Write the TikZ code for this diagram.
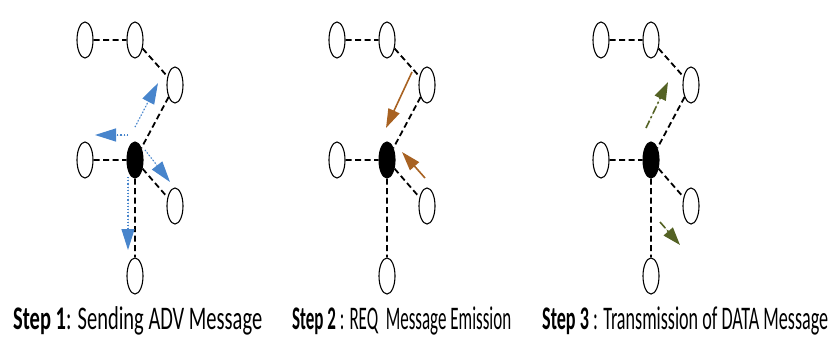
\documentclass[tikz,border=0pt]{standalone}
\usepackage{fontspec}
\setmainfont{Carlito}
\usetikzlibrary{positioning,arrows.meta,shapes.geometric}
\definecolor{advblue}{RGB}{72,133,204}
\definecolor{reqbrown}{RGB}{168,98,34}
\definecolor{dataolive}{RGB}{84,98,36}
\newcommand{\steplabel}[3]{\resizebox{#1}{\height}{\fontsize{33}{33}\selectfont\textbf{#2}#3}}

\begin{document}
\begin{tikzpicture}[
  x=1pt,y=-1pt,
  station/.style={draw,ellipse,line width=1.1pt,minimum width=16pt,minimum height=36pt,inner sep=0pt},
  sink/.style={station,fill=black},
  link/.style={line width=1.8pt,dash pattern=on 6pt off 3.5pt},
  adv/.style={-{Triangle[length=21pt,width=13pt]},draw=advblue,fill=advblue,line width=1.2pt,dotted},
  req/.style={-{Triangle[length=19pt,width=12pt]},draw=reqbrown,fill=reqbrown,line width=1.6pt},
  data/.style={-{Triangle[length=18pt,width=12pt]},draw=dataolive,fill=dataolive,line width=1.6pt,dash pattern=on 8pt off 3pt on 2pt off 3pt}
]
\useasboundingbox (0,0) rectangle (829,338);

% les trois reseaux
\foreach \p/\cx in {1/135,2/387,3/651}{
  \begin{scope}[shift={(\cx,160)}]
    \node[station] (a\p) at (-50,-120) {};
    \node[station] (b\p) at (0,-120) {};
    \node[station] (c\p) at (40,-75) {};
    \node[station] (d\p) at (-50,0) {};
    \node[sink]    (e\p) at (0,0) {};
    \node[station] (f\p) at (40,46) {};
    \node[station] (g\p) at (0,116) {};
    \draw[link] (a\p) -- (b\p) (b\p) -- (c\p) (c\p) -- (e\p)
      (d\p) -- (e\p) (e\p) -- (f\p) (e\p) -- (g\p);
  \end{scope}
}

% etape 1 : ADV
\coordinate (adv1s) at ([shift={(0,-33)}]e1.center);
\coordinate (adv1t) at ([shift={(23,-77)}]e1.center);
\coordinate (adv2s) at ([shift={(-7,-25)}]e1.center);
\coordinate (adv2t) at ([shift={(-40,-25)}]e1.center);
\coordinate (adv3s) at ([shift={(10,-10)}]e1.center);
\coordinate (adv3t) at ([shift={(35,22)}]e1.center);
\coordinate (adv4s) at ([shift={(-7,17)}]e1.center);
\coordinate (adv4t) at ([shift={(-7,90)}]e1.center);
\foreach \k in {1,...,4}
  \draw[adv] (adv\k s) -- (adv\k t);

% etape 2 : REQ
\coordinate (req1s) at ([shift={(25,-88)}]e2.center);
\coordinate (req1t) at ([shift={(-1,-32)}]e2.center);
\coordinate (req2s) at ([shift={(38,18)}]e2.center);
\coordinate (req2t) at ([shift={(15,-8)}]e2.center);
\draw[req] (req1s) -- (req1t);
\draw[req] (req2s) -- (req2t);

% etape 3 : DATA
\coordinate (data1s) at ([shift={(-5,-32)}]e3.center);
\coordinate (data1t) at ([shift={(17,-78)}]e3.center);
\coordinate (data2s) at ([shift={(9,62)}]e3.center);
\coordinate (data2t) at ([shift={(29,85)}]e3.center);
\draw[data] (data1s) -- (data1t);
\draw[data] (data2s) -- (data2t);

% legendes
\node[anchor=base west,inner sep=0pt] (lab1) at (13,329)
  {\steplabel{249pt}{Step 1}{: Sending ADV Message}};
\node[anchor=base west,inner sep=0pt] (lab2) at (292,329)
  {\steplabel{219pt}{Step 2}{ : REQ\ \ Message Emission}};
\node[anchor=base west,inner sep=0pt] (lab3) at (542,329)
  {\steplabel{286pt}{Step 3}{ : Transmission of DATA Message}};
\end{tikzpicture}
\end{document}
